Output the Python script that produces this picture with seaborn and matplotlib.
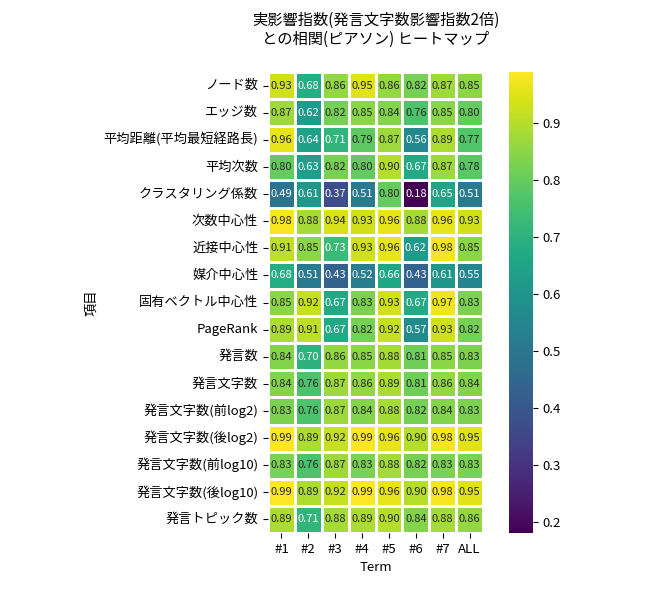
import numpy as np
import pandas as pd
import matplotlib
matplotlib.use('Agg')
import matplotlib.pyplot as plt
import seaborn as sns

items = ['ノード数', 'エッジ数', '平均距離(平均最短経路長)', '平均次数', 'クラスタリング係数',
         '次数中心性', '近接中心性', '媒介中心性', '固有ベクトル中心性', 'PageRank',
         '発言数', '発言文字数', '発言文字数(前log2)', '発言文字数(後log2)',
         '発言文字数(前log10)', '発言文字数(後log10)', '発言トピック数']
terms = ['#1', '#2', '#3', '#4', '#5', '#6', '#7', 'ALL']

values = [
    [0.93, 0.68, 0.86, 0.95, 0.86, 0.82, 0.87, 0.85],
    [0.87, 0.62, 0.82, 0.85, 0.84, 0.76, 0.85, 0.80],
    [0.96, 0.64, 0.71, 0.79, 0.87, 0.56, 0.89, 0.77],
    [0.80, 0.63, 0.82, 0.80, 0.90, 0.67, 0.87, 0.78],
    [0.49, 0.61, 0.37, 0.51, 0.80, 0.18, 0.65, 0.51],
    [0.98, 0.88, 0.94, 0.93, 0.96, 0.88, 0.96, 0.93],
    [0.91, 0.85, 0.73, 0.93, 0.96, 0.62, 0.98, 0.85],
    [0.68, 0.51, 0.43, 0.52, 0.66, 0.43, 0.61, 0.55],
    [0.85, 0.92, 0.67, 0.83, 0.93, 0.67, 0.97, 0.83],
    [0.89, 0.91, 0.67, 0.82, 0.92, 0.57, 0.93, 0.82],
    [0.84, 0.70, 0.86, 0.85, 0.88, 0.81, 0.85, 0.83],
    [0.84, 0.76, 0.87, 0.86, 0.89, 0.81, 0.86, 0.84],
    [0.83, 0.76, 0.87, 0.84, 0.88, 0.82, 0.84, 0.83],
    [0.99, 0.89, 0.92, 0.99, 0.96, 0.90, 0.98, 0.95],
    [0.83, 0.76, 0.87, 0.83, 0.88, 0.82, 0.83, 0.83],
    [0.99, 0.89, 0.92, 0.99, 0.96, 0.90, 0.98, 0.95],
    [0.89, 0.71, 0.88, 0.89, 0.90, 0.84, 0.88, 0.86],
]

df = pd.DataFrame(values, index=items, columns=terms)

plt.rcParams['font.family'] = ['Noto Sans CJK JP', 'DejaVu Sans']

fig = plt.figure(figsize=(6.5, 6), dpi=100)
# heatmap and colorbar placed to match the reference layout
ax = fig.add_axes([268 / 650, 67 / 600, 215 / 650, 461 / 600])
cax = fig.add_axes([509 / 650, 67 / 600, 24 / 650, 461 / 600])

sns.heatmap(df, ax=ax, cbar_ax=cax, cmap='viridis', annot=True, fmt='.2f',
            annot_kws={'size': 8}, linewidths=1, linecolor='white')

ax.set_title('実影響指数(発言文字数影響指数2倍)\nとの相関(ピアソン) ヒートマップ', fontsize=11, pad=20)
ax.set_xlabel('Term', fontsize=9.5)
ax.set_ylabel('項目', fontsize=9.5)
ax.tick_params(axis='both', labelsize=9.5)
ax.set_yticklabels(items, rotation=0)
ax.set_xticklabels(terms, rotation=0)
cax.tick_params(labelsize=9.5)

fig.savefig('out.png', dpi=100)
plt.close(fig)
